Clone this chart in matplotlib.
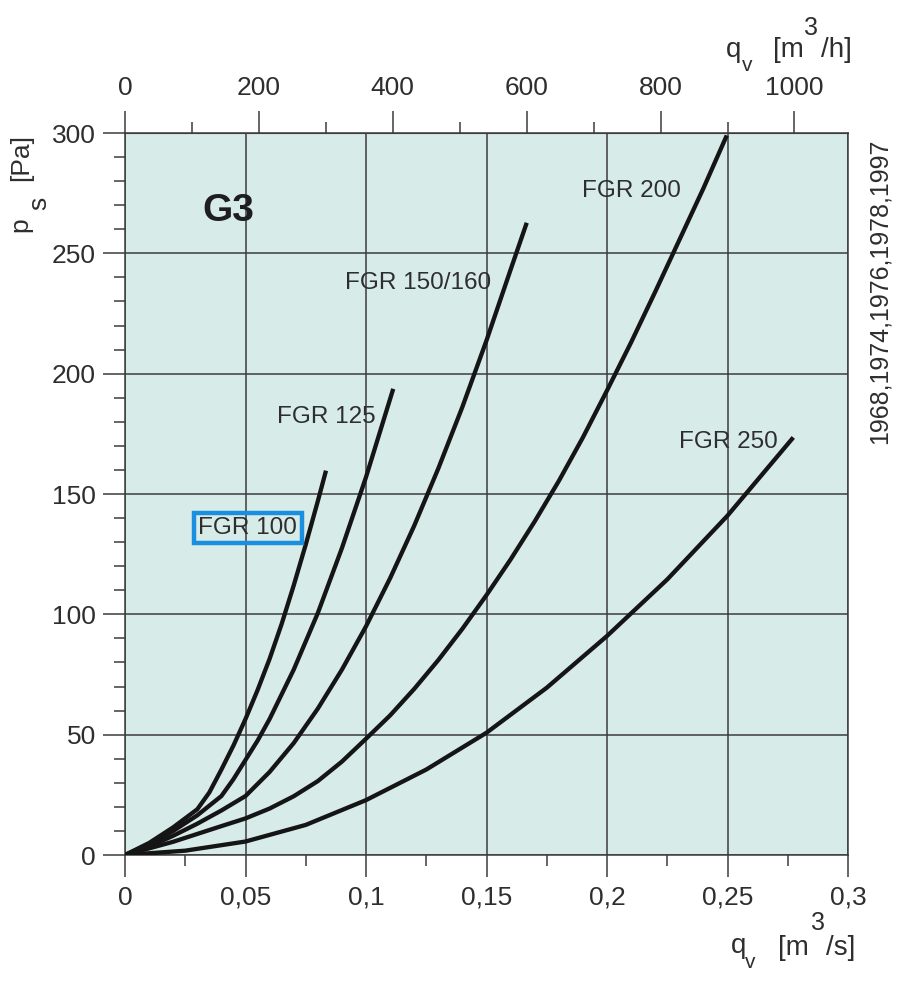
import numpy as np
import matplotlib
matplotlib.use('Agg')
import matplotlib.pyplot as plt
from matplotlib.ticker import MultipleLocator, FixedLocator

plt.rcParams['font.family'] = ['Liberation Sans', 'DejaVu Sans']

# кривые, qv [m3/s] -> ps [Pa]
fgr100_q = [0, 0.01, 0.02, 0.03, 0.035, 0.04, 0.045, 0.05, 0.055, 0.06, 0.065, 0.07, 0.075, 0.08, 0.0834]
fgr100_p = [0, 5, 11.5, 19, 26, 35.5, 45.5, 56.5, 68.5, 81.5, 96, 112, 129, 147, 159.7]

fgr125_q = [0, 0.01, 0.02, 0.03, 0.04, 0.045, 0.05, 0.055, 0.06, 0.07, 0.08, 0.09, 0.1, 0.1113]
fgr125_p = [0, 4.5, 10, 16.5, 24.5, 31.5, 39.5, 47.5, 56.5, 77, 100.5, 127.5, 157, 193.7]

fgr150_q = [0, 0.01, 0.02, 0.03, 0.04, 0.05, 0.06, 0.07, 0.08, 0.09, 0.1, 0.11, 0.12,
            0.13, 0.14, 0.15, 0.16, 0.1667]
fgr150_p = [0, 3.5, 8, 13, 18.5, 24.5, 34.5, 46.5, 60.8, 77, 95, 115, 136.8,
            160.6, 186.2, 213.8, 243.2, 262.7]

fgr200_q = [0, 0.02, 0.04, 0.05, 0.06, 0.07, 0.08, 0.09, 0.1, 0.11, 0.12, 0.13, 0.14,
            0.15, 0.16, 0.17, 0.18, 0.19, 0.2, 0.21, 0.22, 0.23, 0.24, 0.2497]
fgr200_p = [0, 5.5, 12, 15.2, 19.3, 24.4, 30.7, 38.8, 48.3, 58, 69, 81, 94,
            108, 122.8, 138.6, 155.4, 173.5, 193, 213, 234, 255.5, 277, 299]

fgr250_q = [0, 0.025, 0.05, 0.075, 0.1, 0.125, 0.15, 0.175, 0.2, 0.225, 0.25, 0.2773]
fgr250_p = [0, 1.8, 5.6, 12.5, 22.8, 35.5, 50.8, 69.5, 91, 114.5, 141, 173.5]

curves = [(fgr100_q, fgr100_p), (fgr125_q, fgr125_p), (fgr150_q, fgr150_p),
          (fgr200_q, fgr200_p), (fgr250_q, fgr250_p)]

labels = ['FGR 100', 'FGR 125', 'FGR 150/160', 'FGR 200', 'FGR 250']
label_q = [0.051, 0.0836, 0.1215, 0.2103, 0.2502]
label_p = [135.9, 182, 237.8, 276, 171.7]

x_ticks = [0, 0.05, 0.1, 0.15, 0.2, 0.25, 0.3]
x_ticklabels = ['0', '0,05', '0,1', '0,15', '0,2', '0,25', '0,3']
y_ticks = [0, 50, 100, 150, 200, 250, 300]
top_ticks = [0, 200, 400, 600, 800, 1000]
top_minor = [100, 300, 500, 700, 900]

txt = '#2e2e2e'
grid_c = '#3c3c3c'
W, H = 900, 988

fig = plt.figure(figsize=(9, 9.88), dpi=100)
ax = fig.add_axes([125/W, 133/H, 723/W, 722/H])
ax.set_facecolor('#d7ebe8')

for q, p in curves:
    ax.plot(q, p, color='#151515', lw=3.1, solid_capstyle='butt',
            solid_joinstyle='round', zorder=3)

ax.set_xlim(0, 0.3)
ax.set_ylim(0, 300)
ax.set_xticks(x_ticks)
ax.set_xticklabels(x_ticklabels)
ax.set_yticks(y_ticks)
ax.xaxis.set_minor_locator(MultipleLocator(0.025))
ax.yaxis.set_minor_locator(MultipleLocator(10))
ax.grid(True, which='major', color=grid_c, lw=1.1, zorder=1)
ax.set_axisbelow(True)
ax.tick_params(which='major', length=16, width=1.1, color=grid_c, labelsize=19,
               labelcolor=txt, direction='out')
ax.tick_params(which='minor', length=8, width=1.1, color=grid_c, direction='out')
ax.tick_params(axis='x', which='major', pad=6)
ax.tick_params(axis='y', which='major', pad=5)
for s in ax.spines.values():
    s.set_color(grid_c)
    s.set_linewidth(1.1)

top = ax.secondary_xaxis('top', functions=(lambda x: x * 3600, lambda x: x / 3600))
top.xaxis.set_major_locator(FixedLocator(top_ticks))
top.xaxis.set_minor_locator(FixedLocator(top_minor))
top.tick_params(which='major', length=16, width=1.1, color=grid_c, labelsize=19,
                labelcolor=txt, pad=8)
top.tick_params(which='minor', length=8, width=1.1, color=grid_c)
top.spines['top'].set_color(grid_c)

for lab, lq, lp in zip(labels, label_q, label_p):
    t = ax.text(lq, lp, lab, fontsize=17.5, color=txt, ha='center', va='center', zorder=4)
    if lab == 'FGR 100':
        t.set_bbox(dict(facecolor='none', edgecolor='#1a8fe0', linewidth=3.2,
                        boxstyle='square,pad=0.18'))

ax.text(0.0427, 267.6, 'G3', fontsize=28, fontweight='bold', color='#1e1e1e',
        ha='center', va='center', zorder=4)


def piece(s, px, py, size, rot=0):
    fig.text(px / W, 1 - py / H, s, fontsize=size, color=txt, ha='left',
             va='baseline', rotation=rot, rotation_mode='anchor')


# q_v [m3/s] снизу
piece('q', 731, 953, 20)
piece('v', 745, 968, 15)
piece('[m', 778, 955, 20)
piece('3', 811, 930, 18)
piece('/s]', 826, 955, 20)

# q_v [m3/h] сверху
piece('q', 726, 57, 20)
piece('v', 742, 71, 15)
piece('[m', 773, 57, 20)
piece('3', 804, 35, 18)
piece('/h]', 821, 57, 20)

# p_s [Pa] слева
piece('p', 27, 232, 19, 90)
piece('s', 46, 210, 19, 90)
piece('[Pa]', 28, 181, 19, 90)

fig.text(880/W, 1 - 291/H, '1968,1974,1976,1978,1997', fontsize=18,
         color=txt, ha='center', va='center', rotation=90)

fig.savefig('out.png', dpi=100, facecolor='white')
